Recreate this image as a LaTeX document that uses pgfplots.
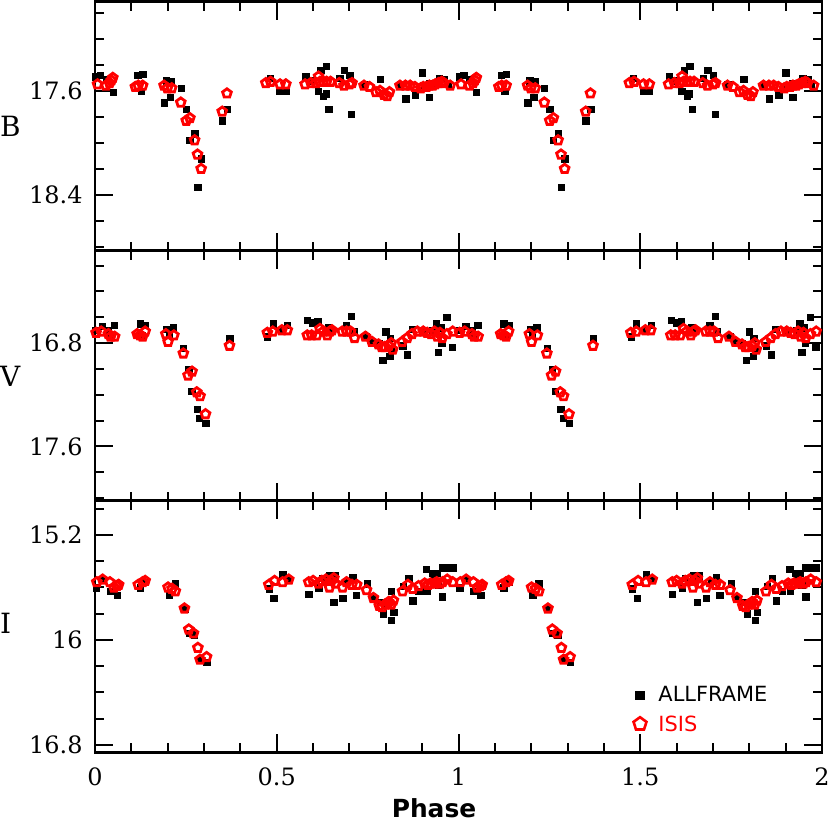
\documentclass[border=0pt]{standalone}
\usepackage{fontspec}
\setmainfont{DejaVu Serif}
\newfontfamily\dvs{DejaVu Sans}
\usepackage{pgfplots}
\usepackage{pgfplotstable}
\pgfplotsset{compat=1.18}

\pgfplotstableread{
ph m
0.001 17.49
0.014 17.48
0.030 17.51
0.049 17.61
0.117 17.48
0.131 17.47
0.127 17.60
0.195 17.52
0.209 17.53
0.190 17.69
0.207 17.65
0.236 17.58
0.251 17.74
0.274 17.93
0.260 17.98
0.292 18.12
0.282 18.34
0.350 17.83
0.363 17.74
0.481 17.50
0.507 17.60
0.524 17.60
0.579 17.49
0.593 17.52
0.621 17.44
0.636 17.41
0.614 17.60
0.628 17.64
0.635 17.62
0.643 17.74
0.673 17.50
0.685 17.44
0.700 17.48
0.705 17.78
0.740 17.55
0.784 17.51
0.840 17.56
0.854 17.66
0.880 17.63
0.900 17.46
0.905 17.57
0.919 17.65
0.919 17.54
0.930 17.55
0.947 17.50
0.961 17.51
0.970 17.55
}\Ball

\pgfplotstableread{
ph m
0.007 17.55
0.030 17.56
0.040 17.54
0.045 17.52
0.049 17.50
0.111 17.57
0.119 17.56
0.131 17.56
0.190 17.56
0.199 17.58
0.211 17.58
0.236 17.69
0.251 17.83
0.261 17.81
0.274 17.98
0.282 18.09
0.292 18.20
0.350 17.76
0.363 17.62
0.470 17.54
0.483 17.53
0.509 17.55
0.525 17.55
0.578 17.55
0.594 17.54
0.608 17.54
0.615 17.49
0.619 17.53
0.628 17.53
0.637 17.53
0.648 17.53
0.672 17.54
0.685 17.56
0.700 17.55
0.707 17.54
0.740 17.56
0.755 17.57
0.773 17.61
0.784 17.60
0.795 17.63
0.804 17.64
0.810 17.61
0.839 17.56
0.854 17.56
0.867 17.56
0.880 17.57
0.896 17.58
0.903 17.57
0.912 17.57
0.920 17.56
0.929 17.56
0.936 17.55
0.945 17.54
0.954 17.53
0.960 17.54
0.977 17.56
}\Bisis

\pgfplotstableread{
ph m
0.001 16.70
0.019 16.67
0.036 16.70
0.052 16.66
0.041 16.75
0.124 16.65
0.138 16.66
0.128 16.74
0.197 16.69
0.215 16.68
0.203 16.74
0.243 16.84
0.257 17.00
0.266 17.17
0.281 17.31
0.287 17.38
0.304 17.42
0.370 16.76
0.474 16.75
0.489 16.65
0.513 16.70
0.529 16.66
0.584 16.62
0.599 16.64
0.612 16.63
0.641 16.68
0.648 16.69
0.691 16.66
0.705 16.59
0.711 16.71
0.746 16.75
0.761 16.79
0.780 16.80
0.791 16.93
0.799 16.71
0.812 16.76
0.810 16.90
0.815 16.85
0.846 16.82
0.859 16.89
0.872 16.69
0.903 16.70
0.929 16.70
0.938 16.65
0.944 16.87
0.951 16.68
0.953 16.80
0.967 16.60
0.982 16.83
}\Vall

\pgfplotstableread{
ph m
0.003 16.72
0.017 16.71
0.037 16.73
0.043 16.75
0.054 16.75
0.116 16.73
0.124 16.74
0.131 16.75
0.138 16.71
0.195 16.73
0.201 16.79
0.217 16.74
0.243 16.88
0.256 17.05
0.267 17.02
0.280 17.18
0.289 17.21
0.304 17.35
0.370 16.82
0.474 16.72
0.489 16.71
0.514 16.70
0.529 16.70
0.584 16.74
0.596 16.74
0.610 16.74
0.619 16.69
0.628 16.71
0.639 16.74
0.646 16.71
0.652 16.70
0.680 16.71
0.692 16.71
0.703 16.71
0.714 16.76
0.744 16.75
0.762 16.79
0.780 16.81
0.789 16.83
0.797 16.83
0.808 16.82
0.815 16.80
0.819 16.85
0.845 16.79
0.859 16.76
0.872 16.73
0.887 16.71
0.903 16.71
0.914 16.72
0.925 16.73
0.934 16.71
0.942 16.75
0.949 16.72
0.955 16.76
0.968 16.73
0.984 16.71
}\Visis

\pgfplotstableread{
ph m
0.003 15.60
0.021 15.54
0.041 15.63
0.061 15.66
0.124 15.60
0.138 15.56
0.204 15.66
0.220 15.57
0.246 15.76
0.258 15.95
0.272 15.96
0.289 16.15
0.307 16.17
0.478 15.61
0.491 15.68
0.516 15.50
0.533 15.54
0.588 15.65
0.615 15.60
0.624 15.53
0.645 15.51
0.661 15.51
0.656 15.71
0.681 15.68
0.694 15.55
0.709 15.52
0.718 15.66
0.749 15.57
0.768 15.68
0.784 15.71
0.793 15.80
0.802 15.73
0.815 15.63
0.815 15.85
0.821 15.79
0.848 15.59
0.863 15.53
0.874 15.70
0.890 15.63
0.911 15.46
0.912 15.63
0.927 15.49
0.933 15.54
0.940 15.49
0.944 15.58
0.955 15.67
0.955 15.45
0.971 15.45
0.984 15.45
}\Iall

\pgfplotstableread{
ph m
0.005 15.56
0.021 15.54
0.041 15.56
0.052 15.60
0.060 15.59
0.065 15.58
0.119 15.58
0.131 15.56
0.138 15.55
0.201 15.60
0.212 15.61
0.221 15.63
0.246 15.76
0.258 15.92
0.271 15.95
0.283 16.06
0.289 16.15
0.307 16.13
0.478 15.58
0.494 15.55
0.516 15.56
0.533 15.54
0.588 15.56
0.600 15.55
0.615 15.57
0.624 15.55
0.635 15.54
0.645 15.60
0.650 15.55
0.657 15.53
0.661 15.57
0.681 15.60
0.692 15.56
0.707 15.58
0.720 15.58
0.747 15.62
0.766 15.68
0.782 15.74
0.790 15.75
0.798 15.73
0.808 15.71
0.815 15.73
0.821 15.70
0.846 15.63
0.861 15.58
0.874 15.61
0.890 15.59
0.907 15.57
0.916 15.58
0.923 15.57
0.934 15.57
0.940 15.56
0.949 15.57
0.956 15.56
0.969 15.54
0.984 15.56
}\Iisis

\pgfplotsset{
  lc/.style={
    scale only axis, width=727bp, y dir=reverse,
    xmin=0, xmax=2, xtick={0,0.5,1,1.5,2}, minor x tick num=4,
    tick align=inside,
    axis line style={line width=2.8bp},
    every tick/.style={black, line width=2bp},
    major tick length=18bp, minor tick length=9bp,
    ticklabel style={font=\fontsize{24}{28}\selectfont},
    yticklabel style={xshift=-9bp},
    xticklabel style={yshift=-12bp},
  },
  allf/.style={only marks, mark=square*, black, mark size=3.2bp, mark options={line width=0.1bp}},
  isis/.style={only marks, mark=pentagon, red, mark size=4.6bp, mark options={line width=2.8bp}},
}

\begin{document}
\begin{tikzpicture}
\begin{axis}[lc, at={(95bp,-1.7bp)}, anchor=north west, height=249bp,
  ymin=16.915, ymax=18.83, ytick={17.6,18.4}, yticklabels={17.6,18.4},
  minor ytick={17.0,17.2,17.4,17.8,18.0,18.2,18.6,18.8},
  xticklabels={}]
\addplot[allf] table[x=ph,y=m] {\Ball};
\addplot[allf] table[x expr=\thisrow{ph}+1,y=m] {\Ball};
\addplot[isis] table[x=ph,y=m] {\Bisis};
\addplot[isis] table[x expr=\thisrow{ph}+1,y=m] {\Bisis};
\end{axis}
\begin{axis}[lc, at={(95bp,-250.7bp)}, anchor=north west, height=250bp,
  ymin=16.085, ymax=18.02, ytick={16.8,17.6}, yticklabels={16.8,17.6},
  minor ytick={16.2,16.4,16.6,17.0,17.2,17.4,17.8,18.0},
  xticklabels={}]
\addplot[allf] table[x=ph,y=m] {\Vall};
\addplot[allf] table[x expr=\thisrow{ph}+1,y=m] {\Vall};
\addplot[isis] table[x=ph,y=m] {\Visis};
\addplot[isis] table[x expr=\thisrow{ph}+1,y=m] {\Visis};
\end{axis}
\begin{axis}[lc, at={(95bp,-500.7bp)}, anchor=north west, height=251.6bp,
  ymin=14.94, ymax=16.856, ytick={15.2,16.0,16.8}, yticklabels={15.2,16,16.8},
  minor ytick={15.0,15.4,15.6,15.8,16.2,16.4,16.6},
  xticklabels={0,0.5,1,1.5,2},
  legend style={at={(axis cs:1.481,16.34)}, anchor=north west, draw=none, fill=none,
    font=\dvs\fontsize{21}{25}\selectfont, row sep=8bp, inner sep=0pt},
  legend cell align=left]
\addlegendimage{only marks, mark=square*, black, mark size=4.4bp}
\addlegendentry{\hspace{10bp}ALLFRAME}
\addlegendimage{only marks, mark=pentagon, red, mark size=6.8bp, mark options={line width=2.6bp}}
\addlegendentry{\hspace{10bp}\textcolor{red}{ISIS}}
\addplot[allf, forget plot] table[x=ph,y=m] {\Iall};
\addplot[allf, forget plot] table[x expr=\thisrow{ph}+1,y=m] {\Iall};
\addplot[isis, forget plot] table[x=ph,y=m] {\Iisis};
\addplot[isis, forget plot] table[x expr=\thisrow{ph}+1,y=m] {\Iisis};
\end{axis}
\node[anchor=west, inner sep=0] at (0bp,-126bp) {\fontsize{28}{30}\selectfont B};
\node[anchor=west, inner sep=0] at (0bp,-376bp) {\fontsize{28}{30}\selectfont V};
\node[anchor=west, inner sep=0] at (0bp,-623bp) {\fontsize{28}{30}\selectfont I};
\node[anchor=base, inner sep=0] at (434bp,-817bp) {\dvs\bfseries\fontsize{25}{28}\selectfont Phase};
\pgfresetboundingbox
\path (0,0) rectangle (830bp,-823bp);
\end{tikzpicture}
\end{document}
